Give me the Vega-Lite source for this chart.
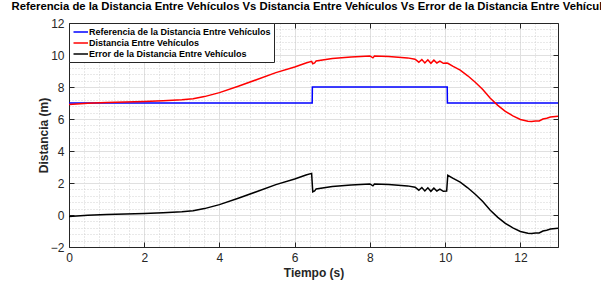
{
  "$schema": "https://vega.github.io/schema/vega-lite/v6.json",
  "width": 489,
  "height": 224,
  "autosize": {"type": "none"},
  "padding": {"left": 69, "top": 23, "right": 43, "bottom": 34},
  "background": "white",
  "config": {
    "font": "Liberation Sans",
    "view": {"stroke": null}
  },
  "title": {
    "text": "Referencia de la Distancia Entre Vehículos Vs Distancia Entre Vehículos Vs Error de la Distancia Entre Vehículos",
    "fontSize": 11.3,
    "fontWeight": "bold",
    "font": "Liberation Sans",
    "color": "#000000",
    "anchor": "middle",
    "frame": "group",
    "offset": 5
  },
  "data": {
    "values": [
      {"serie": "Referencia de la Distancia Entre Vehículos", "t": 0, "d": 7},
      {"serie": "Referencia de la Distancia Entre Vehículos", "t": 6.465, "d": 7},
      {"serie": "Referencia de la Distancia Entre Vehículos", "t": 6.47, "d": 8},
      {"serie": "Referencia de la Distancia Entre Vehículos", "t": 10.055, "d": 8},
      {"serie": "Referencia de la Distancia Entre Vehículos", "t": 10.06, "d": 7},
      {"serie": "Referencia de la Distancia Entre Vehículos", "t": 13, "d": 7},

      {"serie": "Distancia Entre Vehículos", "t": 0, "d": 6.9},
      {"serie": "Distancia Entre Vehículos", "t": 0.5, "d": 6.98},
      {"serie": "Distancia Entre Vehículos", "t": 1.0, "d": 7.03},
      {"serie": "Distancia Entre Vehículos", "t": 1.5, "d": 7.07},
      {"serie": "Distancia Entre Vehículos", "t": 2.0, "d": 7.1},
      {"serie": "Distancia Entre Vehículos", "t": 2.5, "d": 7.14},
      {"serie": "Distancia Entre Vehículos", "t": 3.0, "d": 7.2},
      {"serie": "Distancia Entre Vehículos", "t": 3.3, "d": 7.26},
      {"serie": "Distancia Entre Vehículos", "t": 3.6, "d": 7.4},
      {"serie": "Distancia Entre Vehículos", "t": 4.0, "d": 7.65},
      {"serie": "Distancia Entre Vehículos", "t": 4.5, "d": 8.05},
      {"serie": "Distancia Entre Vehículos", "t": 5.0, "d": 8.47},
      {"serie": "Distancia Entre Vehículos", "t": 5.5, "d": 8.9},
      {"serie": "Distancia Entre Vehículos", "t": 6.0, "d": 9.25},
      {"serie": "Distancia Entre Vehículos", "t": 6.3, "d": 9.5},
      {"serie": "Distancia Entre Vehículos", "t": 6.45, "d": 9.6},
      {"serie": "Distancia Entre Vehículos", "t": 6.48, "d": 9.45},
      {"serie": "Distancia Entre Vehículos", "t": 6.53, "d": 9.5},
      {"serie": "Distancia Entre Vehículos", "t": 6.57, "d": 9.63},
      {"serie": "Distancia Entre Vehículos", "t": 7.0, "d": 9.78},
      {"serie": "Distancia Entre Vehículos", "t": 7.5, "d": 9.88},
      {"serie": "Distancia Entre Vehículos", "t": 8.0, "d": 9.94},
      {"serie": "Distancia Entre Vehículos", "t": 8.08, "d": 9.82},
      {"serie": "Distancia Entre Vehículos", "t": 8.12, "d": 9.93},
      {"serie": "Distancia Entre Vehículos", "t": 8.5, "d": 9.9},
      {"serie": "Distancia Entre Vehículos", "t": 9.0, "d": 9.82},
      {"serie": "Distancia Entre Vehículos", "t": 9.2, "d": 9.74},
      {"serie": "Distancia Entre Vehículos", "t": 9.3, "d": 9.55},
      {"serie": "Distancia Entre Vehículos", "t": 9.38, "d": 9.72},
      {"serie": "Distancia Entre Vehículos", "t": 9.46, "d": 9.5},
      {"serie": "Distancia Entre Vehículos", "t": 9.54, "d": 9.7},
      {"serie": "Distancia Entre Vehículos", "t": 9.62, "d": 9.48},
      {"serie": "Distancia Entre Vehículos", "t": 9.7, "d": 9.68},
      {"serie": "Distancia Entre Vehículos", "t": 9.78, "d": 9.5},
      {"serie": "Distancia Entre Vehículos", "t": 9.86, "d": 9.62},
      {"serie": "Distancia Entre Vehículos", "t": 9.95, "d": 9.48},
      {"serie": "Distancia Entre Vehículos", "t": 10.04, "d": 9.5},
      {"serie": "Distancia Entre Vehículos", "t": 10.07, "d": 9.48},
      {"serie": "Distancia Entre Vehículos", "t": 10.2, "d": 9.3},
      {"serie": "Distancia Entre Vehículos", "t": 10.4, "d": 9.05},
      {"serie": "Distancia Entre Vehículos", "t": 10.6, "d": 8.7},
      {"serie": "Distancia Entre Vehículos", "t": 10.8, "d": 8.3},
      {"serie": "Distancia Entre Vehículos", "t": 11.0, "d": 7.85},
      {"serie": "Distancia Entre Vehículos", "t": 11.2, "d": 7.3},
      {"serie": "Distancia Entre Vehículos", "t": 11.4, "d": 6.85},
      {"serie": "Distancia Entre Vehículos", "t": 11.6, "d": 6.48},
      {"serie": "Distancia Entre Vehículos", "t": 11.8, "d": 6.2},
      {"serie": "Distancia Entre Vehículos", "t": 12.0, "d": 5.97},
      {"serie": "Distancia Entre Vehículos", "t": 12.2, "d": 5.86},
      {"serie": "Distancia Entre Vehículos", "t": 12.3, "d": 5.84},
      {"serie": "Distancia Entre Vehículos", "t": 12.4, "d": 5.87},
      {"serie": "Distancia Entre Vehículos", "t": 12.5, "d": 5.88},
      {"serie": "Distancia Entre Vehículos", "t": 12.6, "d": 6.0},
      {"serie": "Distancia Entre Vehículos", "t": 12.7, "d": 6.05},
      {"serie": "Distancia Entre Vehículos", "t": 12.8, "d": 6.12},
      {"serie": "Distancia Entre Vehículos", "t": 13.0, "d": 6.18},

      {"serie": "Error de la Distancia Entre Vehículos", "t": 0, "d": -0.1},
      {"serie": "Error de la Distancia Entre Vehículos", "t": 0.5, "d": -0.02},
      {"serie": "Error de la Distancia Entre Vehículos", "t": 1.0, "d": 0.03},
      {"serie": "Error de la Distancia Entre Vehículos", "t": 1.5, "d": 0.07},
      {"serie": "Error de la Distancia Entre Vehículos", "t": 2.0, "d": 0.1},
      {"serie": "Error de la Distancia Entre Vehículos", "t": 2.5, "d": 0.14},
      {"serie": "Error de la Distancia Entre Vehículos", "t": 3.0, "d": 0.2},
      {"serie": "Error de la Distancia Entre Vehículos", "t": 3.3, "d": 0.26},
      {"serie": "Error de la Distancia Entre Vehículos", "t": 3.6, "d": 0.4},
      {"serie": "Error de la Distancia Entre Vehículos", "t": 4.0, "d": 0.65},
      {"serie": "Error de la Distancia Entre Vehículos", "t": 4.5, "d": 1.05},
      {"serie": "Error de la Distancia Entre Vehículos", "t": 5.0, "d": 1.47},
      {"serie": "Error de la Distancia Entre Vehículos", "t": 5.5, "d": 1.9},
      {"serie": "Error de la Distancia Entre Vehículos", "t": 6.0, "d": 2.25},
      {"serie": "Error de la Distancia Entre Vehículos", "t": 6.3, "d": 2.5},
      {"serie": "Error de la Distancia Entre Vehículos", "t": 6.45, "d": 2.6},
      {"serie": "Error de la Distancia Entre Vehículos", "t": 6.48, "d": 1.45},
      {"serie": "Error de la Distancia Entre Vehículos", "t": 6.53, "d": 1.5},
      {"serie": "Error de la Distancia Entre Vehículos", "t": 6.57, "d": 1.63},
      {"serie": "Error de la Distancia Entre Vehículos", "t": 7.0, "d": 1.78},
      {"serie": "Error de la Distancia Entre Vehículos", "t": 7.5, "d": 1.88},
      {"serie": "Error de la Distancia Entre Vehículos", "t": 8.0, "d": 1.94},
      {"serie": "Error de la Distancia Entre Vehículos", "t": 8.08, "d": 1.82},
      {"serie": "Error de la Distancia Entre Vehículos", "t": 8.12, "d": 1.93},
      {"serie": "Error de la Distancia Entre Vehículos", "t": 8.5, "d": 1.9},
      {"serie": "Error de la Distancia Entre Vehículos", "t": 9.0, "d": 1.82},
      {"serie": "Error de la Distancia Entre Vehículos", "t": 9.2, "d": 1.74},
      {"serie": "Error de la Distancia Entre Vehículos", "t": 9.3, "d": 1.55},
      {"serie": "Error de la Distancia Entre Vehículos", "t": 9.38, "d": 1.72},
      {"serie": "Error de la Distancia Entre Vehículos", "t": 9.46, "d": 1.5},
      {"serie": "Error de la Distancia Entre Vehículos", "t": 9.54, "d": 1.7},
      {"serie": "Error de la Distancia Entre Vehículos", "t": 9.62, "d": 1.48},
      {"serie": "Error de la Distancia Entre Vehículos", "t": 9.7, "d": 1.68},
      {"serie": "Error de la Distancia Entre Vehículos", "t": 9.78, "d": 1.5},
      {"serie": "Error de la Distancia Entre Vehículos", "t": 9.86, "d": 1.62},
      {"serie": "Error de la Distancia Entre Vehículos", "t": 9.95, "d": 1.48},
      {"serie": "Error de la Distancia Entre Vehículos", "t": 10.04, "d": 1.5},
      {"serie": "Error de la Distancia Entre Vehículos", "t": 10.07, "d": 2.48},
      {"serie": "Error de la Distancia Entre Vehículos", "t": 10.2, "d": 2.3},
      {"serie": "Error de la Distancia Entre Vehículos", "t": 10.4, "d": 2.05},
      {"serie": "Error de la Distancia Entre Vehículos", "t": 10.6, "d": 1.7},
      {"serie": "Error de la Distancia Entre Vehículos", "t": 10.8, "d": 1.3},
      {"serie": "Error de la Distancia Entre Vehículos", "t": 11.0, "d": 0.85},
      {"serie": "Error de la Distancia Entre Vehículos", "t": 11.2, "d": 0.3},
      {"serie": "Error de la Distancia Entre Vehículos", "t": 11.4, "d": -0.15},
      {"serie": "Error de la Distancia Entre Vehículos", "t": 11.6, "d": -0.52},
      {"serie": "Error de la Distancia Entre Vehículos", "t": 11.8, "d": -0.8},
      {"serie": "Error de la Distancia Entre Vehículos", "t": 12.0, "d": -1.03},
      {"serie": "Error de la Distancia Entre Vehículos", "t": 12.2, "d": -1.14},
      {"serie": "Error de la Distancia Entre Vehículos", "t": 12.3, "d": -1.16},
      {"serie": "Error de la Distancia Entre Vehículos", "t": 12.4, "d": -1.13},
      {"serie": "Error de la Distancia Entre Vehículos", "t": 12.5, "d": -1.12},
      {"serie": "Error de la Distancia Entre Vehículos", "t": 12.6, "d": -1.0},
      {"serie": "Error de la Distancia Entre Vehículos", "t": 12.7, "d": -0.95},
      {"serie": "Error de la Distancia Entre Vehículos", "t": 12.8, "d": -0.88},
      {"serie": "Error de la Distancia Entre Vehículos", "t": 13.0, "d": -0.82}
    ]
  },
  "layer": [
    {
      "mark": {"type": "line", "opacity": 0},
      "encoding": {
        "x": {
          "field": "t", "type": "quantitative",
          "scale": {"domain": [0, 13], "nice": false, "zero": false},
          "axis": {
            "orient": "bottom",
            "values": [0.4, 0.8, 1.2, 1.6, 2.4, 2.8, 3.2, 3.6, 4.4, 4.8, 5.2, 5.6, 6.4, 6.8, 7.2, 7.6, 8.4, 8.8, 9.2, 9.6, 10.4, 10.8, 11.2, 11.6, 12.4, 12.8],
            "grid": true, "gridColor": "#c8c8c8", "gridDash": [1, 2], "gridWidth": 0.8,
            "labels": false, "ticks": false, "domain": false, "title": null
          }
        },
        "y": {
          "field": "d", "type": "quantitative",
          "scale": {"domain": [-2, 12], "nice": false, "zero": false},
          "axis": {
            "orient": "left",
            "values": [-1.6, -1.2, -0.8, -0.4, 0.4, 0.8, 1.2, 1.6, 2.4, 2.8, 3.2, 3.6, 4.4, 4.8, 5.2, 5.6, 6.4, 6.8, 7.2, 7.6, 8.4, 8.8, 9.2, 9.6, 10.4, 10.8, 11.2, 11.6],
            "grid": true, "gridColor": "#c8c8c8", "gridDash": [1, 2], "gridWidth": 0.8,
            "labels": false, "ticks": false, "domain": false, "title": null
          }
        },
        "detail": {"field": "serie"}
      }
    },
    {
      "mark": {"type": "line", "opacity": 0},
      "encoding": {
        "x": {
          "field": "t", "type": "quantitative",
          "axis": {
            "orient": "top",
            "values": [0, 2, 4, 6, 8, 10, 12],
            "grid": false, "labels": false, "ticks": true, "tickSize": -5, "tickColor": "#262626",
            "domain": true, "domainColor": "#262626", "domainWidth": 1, "title": null
          }
        },
        "y": {
          "field": "d", "type": "quantitative",
          "axis": {
            "orient": "right",
            "values": [-2, 0, 2, 4, 6, 8, 10, 12],
            "grid": false, "labels": false, "ticks": true, "tickSize": -5, "tickColor": "#262626",
            "domain": true, "domainColor": "#262626", "domainWidth": 1, "title": null
          }
        },
        "detail": {"field": "serie"}
      }
    },
    {
      "mark": {"type": "line", "strokeWidth": 1.5, "clip": true},
      "encoding": {
        "x": {
          "field": "t", "type": "quantitative",
          "axis": {
            "orient": "bottom",
            "values": [0, 2, 4, 6, 8, 10, 12],
            "grid": true, "gridColor": "#e0e0e0", "gridWidth": 1,
            "ticks": true, "tickSize": -5, "tickColor": "#262626",
            "domain": true, "domainColor": "#262626", "domainWidth": 1,
            "labelFont": "Liberation Sans", "labelFontSize": 12, "labelColor": "#262626",
            "labelPadding": 10, "labelFlush": false,
            "title": "Tiempo (s)", "titleFont": "Liberation Sans", "titleFontSize": 12,
            "titleFontWeight": "bold", "titleColor": "#262626", "titlePadding": 4
          }
        },
        "y": {
          "field": "d", "type": "quantitative",
          "axis": {
            "orient": "left",
            "values": [-2, 0, 2, 4, 6, 8, 10, 12],
            "grid": true, "gridColor": "#e0e0e0", "gridWidth": 1,
            "ticks": true, "tickSize": -5, "tickColor": "#262626",
            "domain": true, "domainColor": "#262626", "domainWidth": 1,
            "labelFont": "Liberation Sans", "labelFontSize": 12, "labelColor": "#262626",
            "labelPadding": 10, "labelFlush": false,
            "title": "Distancia (m)", "titleFont": "Liberation Sans", "titleFontSize": 12,
            "titleFontWeight": "bold", "titleColor": "#262626", "titlePadding": 0
          }
        },
        "color": {
          "field": "serie", "type": "nominal",
          "scale": {
            "domain": ["Referencia de la Distancia Entre Vehículos", "Distancia Entre Vehículos", "Error de la Distancia Entre Vehículos"],
            "range": ["#0000ff", "#ff0000", "#000000"]
          },
          "legend": {
            "orient": "top-left",
            "offset": 0,
            "title": null,
            "fillColor": "white",
            "strokeColor": "#262626",
            "padding": 3,
            "symbolType": "M-0.9,0H2.0",
            "symbolSize": 100,
            "symbolStrokeWidth": 1.5,
            "symbolFillColor": "transparent",
            "labelFont": "Liberation Sans",
            "labelFontSize": 9,
            "labelFontWeight": "bold",
            "labelColor": "#000000",
            "labelOffset": 5,
            "labelLimit": 300,
            "rowPadding": -4
          }
        }
      }
    }
  ],
  "resolve": {"axis": {"x": "independent", "y": "independent"}}
}
